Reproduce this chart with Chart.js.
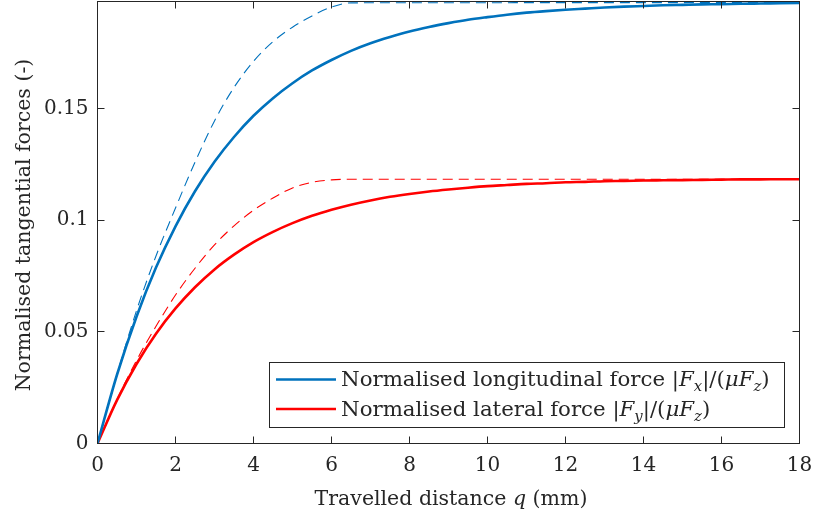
<!DOCTYPE html>
<html>
<head>
<meta charset="utf-8">
<script src="https://cdn.jsdelivr.net/npm/chart.js@4.4.0/dist/chart.umd.min.js"></script>
<style>
  html, body { margin: 0; padding: 0; background: #ffffff; }
</style>
</head>
<body>
<canvas id="fuerzas" width="815" height="519"></canvas>
<script>
// distancia recorrida (mm) para las curvas completas
const distancia = [0, 0.5, 1, 1.5, 2, 2.5, 3, 3.5, 4, 4.5, 5, 5.5, 6, 6.5, 7, 7.5, 8, 8.5, 9,
                   9.5, 10, 10.5, 11, 11.5, 12, 12.5, 13, 13.5, 14, 14.5, 15, 15.5, 16, 16.5, 17, 17.5, 18];
const fuerzaLong = [0, 0.0308, 0.0568, 0.0788, 0.0973, 0.1130, 0.1262, 0.1373, 0.1468, 0.1547, 0.1614,
                    0.1671, 0.1718, 0.1759, 0.1793, 0.1821, 0.1846, 0.1866, 0.1883, 0.1898, 0.1910,
                    0.1921, 0.1930, 0.1937, 0.1943, 0.1948, 0.1953, 0.1957, 0.1960, 0.1963, 0.1965,
                    0.1967, 0.1968, 0.1970, 0.1971, 0.1972, 0.1973];
const fuerzaLat = [0, 0.0194, 0.0356, 0.0492, 0.0605, 0.0700, 0.0780, 0.0846, 0.0902, 0.0948, 0.0987,
                   0.1020, 0.1047, 0.1070, 0.1089, 0.1105, 0.1118, 0.1129, 0.1138, 0.1146, 0.1153,
                   0.1158, 0.1163, 0.1166, 0.1170, 0.1172, 0.1175, 0.1176, 0.1178, 0.1179, 0.1180,
                   0.1181, 0.1182, 0.1183, 0.1183, 0.1184, 0.1184];

// curvas discontinuas (llegan a saturacion hacia 6.5 mm)
const distanciaTeo = [0, 0.5, 1, 1.5, 2, 2.5, 3, 3.5, 4, 4.5, 5, 5.5, 6, 6.5, 18];
const longTeo = [0, 0.031, 0.0595, 0.084, 0.1055, 0.1260, 0.1445, 0.1595, 0.1712, 0.1800, 0.1865,
                 0.1915, 0.1955, 0.1974, 0.1975];
const latTeo = [0, 0.0197, 0.0372, 0.0525, 0.0665, 0.0785, 0.0890, 0.0975, 0.1045, 0.1100, 0.1145,
                0.1170, 0.1181, 0.1184, 0.1184];

const ticksX = [0, 2, 4, 6, 8, 10, 12, 14, 16, 18];
const ticksY = [0, 0.05, 0.1, 0.15];

const etiquetas = ['Normalised longitudinal force', 'Normalised lateral force'];
const subindices = ['x', 'y'];
const colores = ['#0072BD', '#FF0000'];

const fuente = '"DejaVu Serif", "Liberation Serif", serif';
const colorTexto = '#262626';

function puntos(xs, ys) {
    return xs.map((v, i) => ({ x: v, y: ys[i] }));
}

// escribe texto con partes en cursiva / subindice
function escribir(ctx, partes, x, y, size, dibujar) {
    let cx = x;
    partes.forEach(p => {
        const s = p.sub ? size * 0.7 : size;
        ctx.font = (p.it ? 'italic ' : '') + s + 'px ' + fuente;
        if (dibujar) ctx.fillText(p.t, cx, p.sub ? y + size * 0.25 : y);
        cx += ctx.measureText(p.t).width;
    });
    return cx - x;
}

function partesLeyenda(i) {
    return [
        { t: etiquetas[i] + ' |' },
        { t: 'F', it: true },
        { t: subindices[i], it: true, sub: true },
        { t: '|/(' },
        { t: '\u03BC', it: true },
        { t: 'F', it: true },
        { t: 'z', it: true, sub: true },
        { t: ')' }
    ];
}

const marco = {
    id: 'marco',
    afterDraw(chart) {
        const { ctx, chartArea: a, scales: { x, y } } = chart;
        ctx.save();

        // caja de ejes con marcas hacia dentro
        ctx.strokeStyle = colorTexto;
        ctx.lineWidth = 1;
        ctx.strokeRect(a.left, a.top, a.right - a.left, a.bottom - a.top);
        ctx.beginPath();
        x.ticks.forEach(t => {
            const px = Math.floor(x.getPixelForValue(t.value)) + 0.5;
            ctx.moveTo(px, a.bottom); ctx.lineTo(px, a.bottom - 7);
            ctx.moveTo(px, a.top); ctx.lineTo(px, a.top + 7);
        });
        y.ticks.forEach(t => {
            const py = Math.floor(y.getPixelForValue(t.value)) + 0.5;
            ctx.moveTo(a.left, py); ctx.lineTo(a.left + 7, py);
            ctx.moveTo(a.right, py); ctx.lineTo(a.right - 7, py);
        });
        ctx.stroke();

        // leyenda
        ctx.fillStyle = '#ffffff';
        ctx.fillRect(269.5, 362.5, 515, 65);
        ctx.strokeRect(269.5, 362.5, 515, 65);
        [379.5, 409].forEach((ly, i) => {
            ctx.strokeStyle = colores[i];
            ctx.lineWidth = 2.6;
            ctx.beginPath();
            ctx.moveTo(276, ly); ctx.lineTo(336, ly);
            ctx.stroke();
            ctx.fillStyle = colorTexto;
            ctx.textBaseline = 'alphabetic';
            ctx.textAlign = 'left';
            escribir(ctx, partesLeyenda(i), 341, ly + 6.5, 21.3, true);
        });

        // titulo eje x
        const tituloX = [{ t: 'Travelled distance ' }, { t: 'q', it: true }, { t: ' (mm)' }];
        const ancho = escribir(ctx, tituloX, 0, 0, 20.5, false);
        escribir(ctx, tituloX, 451 - ancho / 2, 505, 20.5, true);

        // titulo eje y
        ctx.translate(30, 225);
        ctx.rotate(-Math.PI / 2);
        ctx.textAlign = 'center';
        ctx.font = '20.5px ' + fuente;
        ctx.fillText('Normalised tangential forces (-)', 0, 0);
        ctx.restore();
    }
};

new Chart(document.getElementById('fuerzas').getContext('2d'), {
    type: 'line',
    data: {
        datasets: [
            { data: puntos(distancia, fuerzaLong), borderColor: colores[0], borderWidth: 2.6 },
            { data: puntos(distancia, fuerzaLat), borderColor: colores[1], borderWidth: 2.6 },
            { data: puntos(distanciaTeo, longTeo), borderColor: colores[0], borderWidth: 1.1, borderDash: [10, 6] },
            { data: puntos(distanciaTeo, latTeo), borderColor: colores[1], borderWidth: 1.1, borderDash: [10, 6] }
        ]
    },
    options: {
        responsive: false,
        animation: false,
        devicePixelRatio: 1,
        layout: { padding: { left: 0, right: 15.5, top: 1.5, bottom: 0 } },
        elements: {
            point: { radius: 0 },
            line: { cubicInterpolationMode: 'monotone', fill: false }
        },
        plugins: {
            legend: { display: false },
            tooltip: { enabled: false }
        },
        scales: {
            x: {
                type: 'linear',
                min: 0,
                max: 18,
                afterBuildTicks: s => { s.ticks = ticksX.map(v => ({ value: v })); },
                afterFit: s => { s.height = 75.5; s.paddingLeft = 0; s.paddingRight = 0; },
                grid: { display: false, drawTicks: false },
                border: { display: false },
                ticks: {
                    color: colorTexto,
                    padding: 10,
                    maxRotation: 0,
                    autoSkip: false,
                    font: { family: fuente, size: 20 }
                }
            },
            y: {
                type: 'linear',
                min: 0,
                max: 0.198,
                afterBuildTicks: s => { s.ticks = ticksY.map(v => ({ value: v })); },
                afterFit: s => { s.width = 97.5; s.paddingTop = 0; s.paddingBottom = 0; },
                grid: { display: false, drawTicks: false },
                border: { display: false },
                ticks: {
                    color: colorTexto,
                    padding: 9,
                    autoSkip: false,
                    callback: v => String(v),
                    font: { family: fuente, size: 20 }
                }
            }
        }
    },
    plugins: [marco]
});
</script>
</body>
</html>
